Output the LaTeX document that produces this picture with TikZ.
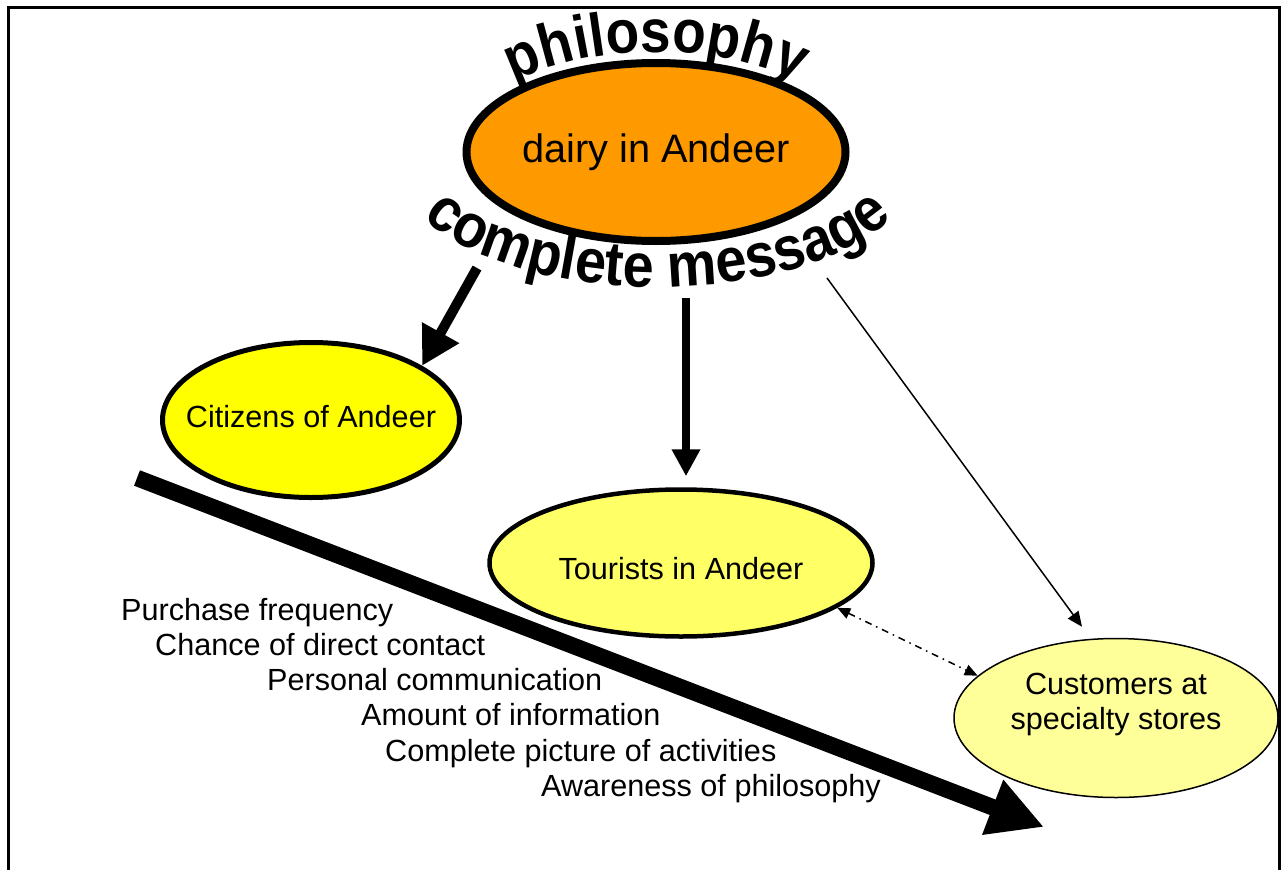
\documentclass[tikz,border=0pt]{standalone}
\usepackage{fontspec}
\setmainfont{Liberation Sans}
\newfontfamily\wordartfont{Liberation Sans}[FakeStretch=0.9]
\usetikzlibrary{arrows.meta,shapes.geometric,decorations.text}

\definecolor{dairyorange}{HTML}{FF9900}
\definecolor{citizenyellow}{HTML}{FFFF00}
\definecolor{touristyellow}{HTML}{FFFF66}
\definecolor{customeryellow}{HTML}{FFFF99}

\begin{document}
\begin{tikzpicture}[x=1pt,y=-1pt,
  bubble/.style={ellipse, draw=black, inner sep=0pt, align=center,
    font=\fontsize{30.6}{35}\selectfont},
  factor/.style={anchor=base west, inner sep=0pt,
    font=\fontsize{30.6}{35}\selectfont},
  heavy/.style={line width=10pt, -{Triangle[length=38pt,width=40pt]}},
  medium/.style={line width=8.5pt, -{Triangle[length=27pt,width=27pt]}},
  thin/.style={line width=1.5pt, -{Triangle[length=15pt,width=13pt]}},
  linkage/.style={line width=1.5pt, dash pattern=on 7pt off 5pt on 1.5pt off 5pt,
    {Triangle[length=13pt,width=11pt]}-{Triangle[length=13pt,width=11pt]}},
  trend/.style={line width=16.5pt, -{Triangle[length=55pt,width=55pt]}},
]
\useasboundingbox (0,0) rectangle (1282,870);

% frame open at the bottom
\draw[line width=3pt] (8,870) -- (8,7.5) -- (1279.5,7.5) -- (1279.5,870);

% central bubble
\node[bubble, line width=8pt, fill=dairyorange, minimum width=379pt, minimum height=178pt,
  font=\fontsize{39.7}{45}\selectfont] (dairy) at (656,152) {\makebox[0pt]{dairy in Andeer}};

% arched lettering above and below the central bubble
\path[decorate, decoration={text along path, text align=center,
  text={|\wordartfont\bfseries\fontsize{61}{61}\selectfont|philosophy}}]
  (456,152) arc[start angle=180, end angle=360, x radius=200, y radius=100];
\path[decorate, decoration={text along path, text align=center,
  text={|\wordartfont\bfseries\fontsize{62}{62}\selectfont|complete message}}]
  (396,163) arc[start angle=180, end angle=0, x radius=262, y radius=124];

% audience bubbles
\node[bubble, line width=5pt, fill=citizenyellow, minimum width=297pt, minimum height=155pt,
  text depth=8pt] (citizens) at (311,420) {\makebox[0pt]{Citizens of Andeer}};
\node[bubble, line width=4.5pt, fill=touristyellow, minimum width=383pt, minimum height=147pt,
  text height=34pt] (tourists) at (681,563) {\makebox[0pt]{Tourists in Andeer}};
\node[bubble, line width=1.5pt, fill=customeryellow, minimum width=324pt, minimum height=159pt,
  inner sep=-2pt, text depth=33pt] (customers) at (1116,718) {Customers at\\specialty stores};

% message flows
\coordinate (msgleft) at (477,268);
\coordinate (msgmid) at (686,298);
\coordinate (msgright) at (827,278);
\draw[heavy] (msgleft) -- (citizens.26.6);
\draw[medium, shorten >=11pt] (msgmid) -- (tourists.north -| msgmid);
\draw[thin] (msgright) -- ([shift={(-34pt,11pt)}]customers.north);
\draw[linkage] (tourists.-16.8) -- (customers.163.2);

% decreasing intensity of contact
\coordinate (trendstart) at (137,478);
\coordinate (trendend) at (1044,827);
\draw[trend] (trendstart) -- (trendend);

\node[factor] (f1) at (121,620) {Purchase frequency};
\node[factor] (f2) at (155,655.3) {Chance of direct contact};
\node[factor] (f3) at (267,690.6) {Personal communication};
\node[factor] (f4) at (361,725.9) {Amount of information};
\node[factor] (f5) at (385,761.2) {Complete picture of activities};
\node[factor] (f6) at (541,796.5) {Awareness of philosophy};
\end{tikzpicture}
\end{document}
